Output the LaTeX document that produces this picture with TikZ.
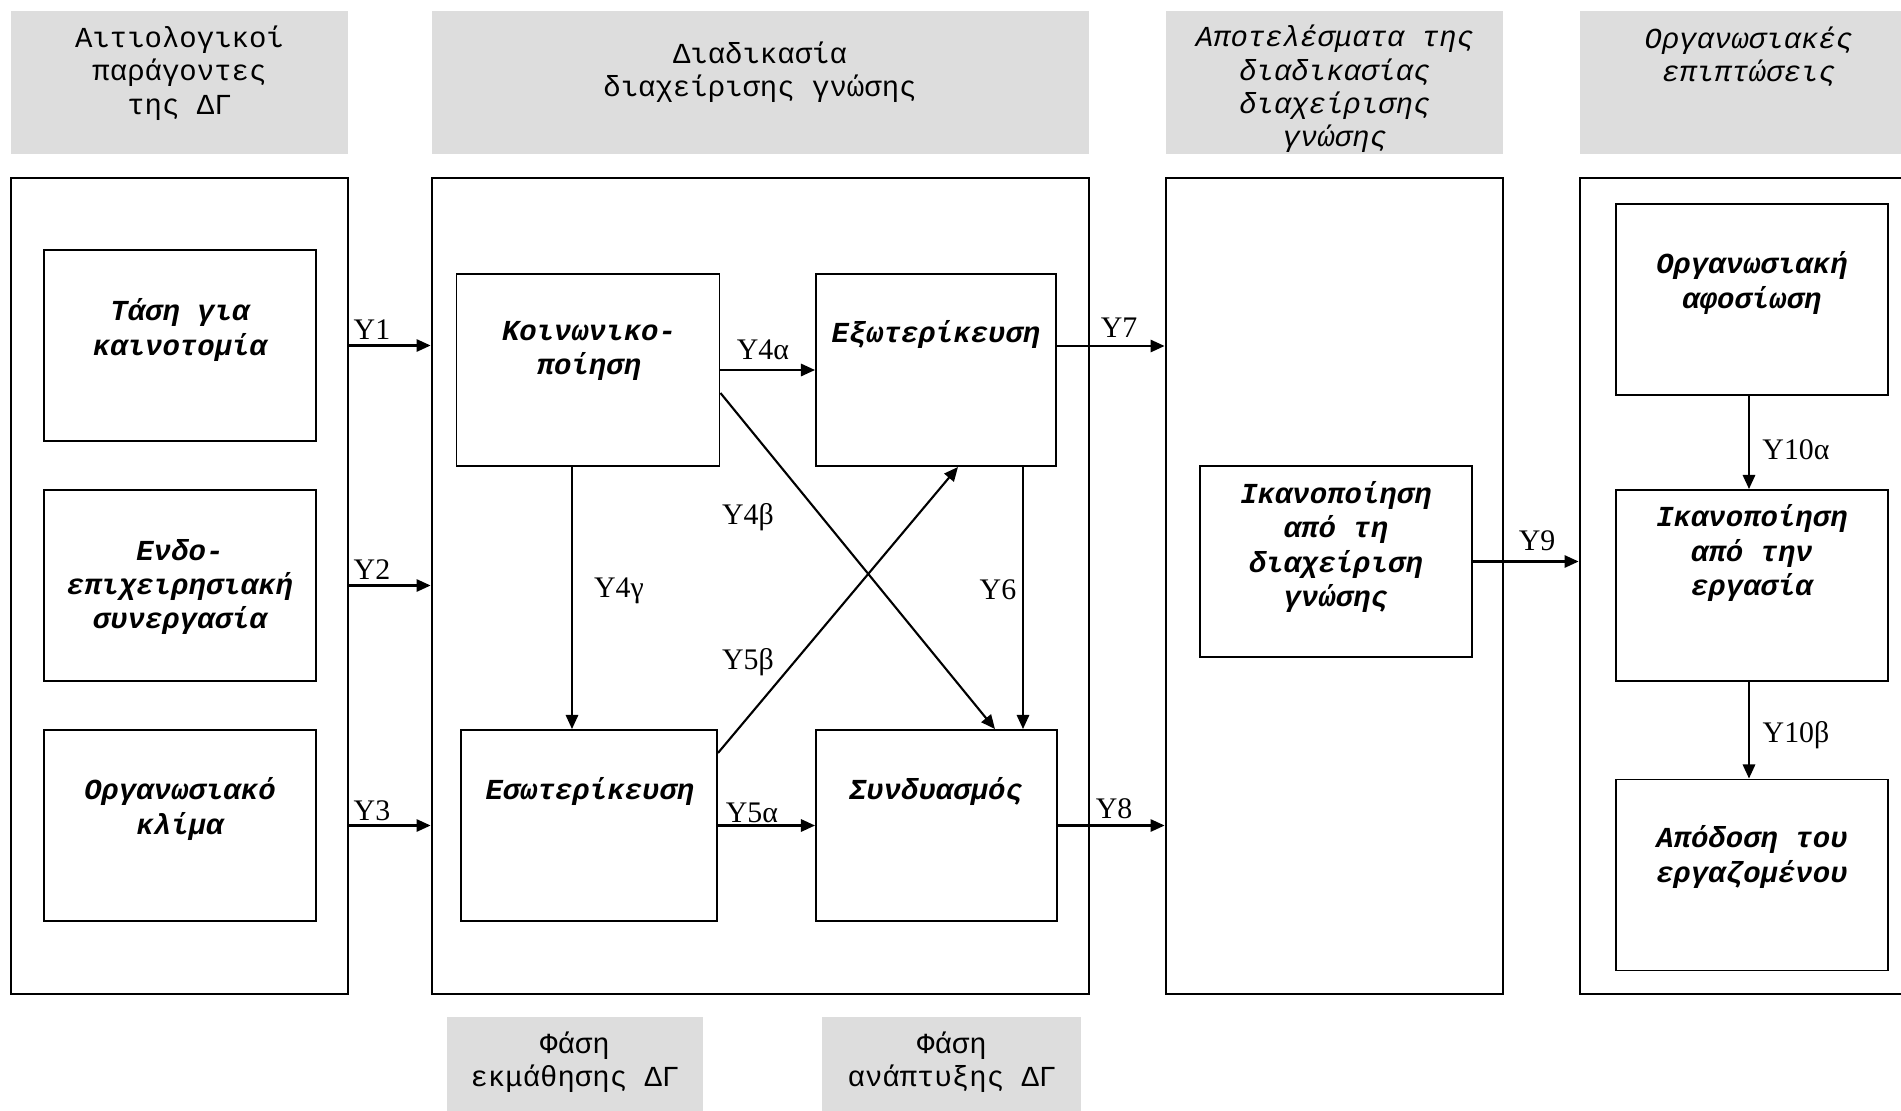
\documentclass[tikz,border=0pt]{standalone}
\usepackage{fontspec}
\setmainfont{Liberation Serif}
\newfontfamily\monofont{Liberation Mono}
\usetikzlibrary{arrows.meta,positioning}
\definecolor{headgray}{HTML}{DDDDDD}

\tikzset{
    outer/.style={draw, line width=0.8pt, minimum width=3.37cm, minimum height=8.16cm, inner sep=0},
    inbox/.style={draw, line width=0.55pt, minimum width=2.72cm, minimum height=1.91cm, inner sep=0},
    head/.style={fill=headgray, minimum width=3.37cm, minimum height=1.43cm, inner sep=0},
    headtxt/.style={font=\monofont\fontsize{8.25}{9.5}\selectfont, align=center, inner sep=0},
    boxtxt/.style={font=\monofont\bfseries\itshape\fontsize{8.25}{9.7}\selectfont, align=center, inner sep=0},
    lbl/.style={font=\fontsize{8.5}{10}\selectfont, inner sep=0},
    arr/.style={-{Triangle[length=4pt,width=3.5pt]}, line width=0.6pt}
}

\begin{document}
\begin{tikzpicture}
    \useasboundingbox (0,0) rectangle (19.01,-11.11);

    % headers
    \node[head] (h1) at (1.795,-0.825) {};
    \node[head, minimum width=6.57cm] (h2) at (7.605,-0.825) {};
    \node[head] (h3) at (13.345,-0.825) {};
    \node[head] (h4) at (17.485,-0.825) {};
    \node[headtxt] (h1t) at (1.795,-0.73) {Αιτιολογικοί\\παράγοντες\\της ΔΓ};
    \node[headtxt] (h2t) at (7.60,-0.72) {Διαδικασία\\διαχείρισης γνώσης};
    \node[headtxt, font=\monofont\itshape\fontsize{8.25}{9.5}\selectfont] (h3t) at (13.35,-0.89) {Αποτελέσματα της\\διαδικασίας\\διαχείρισης\\γνώσης};
    \node[headtxt, font=\monofont\itshape\fontsize{8.25}{9.5}\selectfont] (h4t) at (17.49,-0.565) {Οργανωσιακές\\επιπτώσεις};

    % phases
    \node[head, minimum width=2.56cm, minimum height=1.03cm] (p1) at (5.75,-10.685) {};
    \node[head, minimum width=2.59cm, minimum height=1.03cm] (p2) at (9.515,-10.685) {};
    \node[headtxt] (p1t) at (5.75,-10.62) {Φάση\\εκμάθησης ΔΓ};
    \node[headtxt] (p2t) at (9.52,-10.62) {Φάση\\ανάπτυξης ΔΓ};

    % outer boxes
    \node[outer] (b1) at (1.795,-5.86) {};
    \node[outer, minimum width=6.57cm] (b2) at (7.605,-5.86) {};
    \node[outer] (b3) at (13.345,-5.86) {};
    \node[outer] (b4) at (17.485,-5.86) {};

    % factors
    \node[inbox] (tasi) at (1.80,-3.455) {};
    \node[inbox] (endo) at (1.80,-5.855) {};
    \node[inbox] (klima) at (1.80,-8.255) {};
    \node[boxtxt] (tasit) at (1.80,-3.30) {Τάση για\\καινοτομία};
    \node[boxtxt] (endot) at (1.80,-5.87) {Ενδο-\\επιχειρησιακή\\συνεργασία};
    \node[boxtxt] (klimat) at (1.80,-8.09) {Οργανωσιακό\\κλίμα};

    % process
    \node[inbox, minimum width=2.63cm, minimum height=1.92cm] (koin) at (5.88,-3.70) {};
    \node[inbox, minimum width=2.40cm, minimum height=1.92cm] (exot) at (9.36,-3.70) {};
    \node[inbox, minimum width=2.56cm] (esot) at (5.89,-8.255) {};
    \node[inbox, minimum width=2.41cm] (synd) at (9.365,-8.255) {};
    \node[boxtxt] (koint) at (5.89,-3.51) {Κοινωνικο-\\ποίηση};
    \node[boxtxt] (exott) at (9.36,-3.34) {Εξωτερίκευση};
    \node[boxtxt] (esott) at (5.90,-7.91) {Εσωτερίκευση};
    \node[boxtxt] (syndt) at (9.36,-7.91) {Συνδυασμός};

    % results
    \node[inbox] (ikm) at (13.36,-5.615) {};
    \node[boxtxt] (ikmt) at (13.36,-5.47) {Ικανοποίηση\\από τη\\διαχείριση\\γνώσης};

    % impact
    \node[inbox] (afos) at (17.52,-2.995) {};
    \node[inbox] (ikerg) at (17.52,-5.855) {};
    \node[inbox] (apod) at (17.52,-8.75) {};
    \node[boxtxt] (afost) at (17.52,-2.83) {Οργανωσιακή\\αφοσίωση};
    \node[boxtxt] (ikergt) at (17.52,-5.53) {Ικανοποίηση\\από την\\εργασία};
    \node[boxtxt] (apodt) at (17.52,-8.57) {Απόδοση του\\εργαζομένου};

    % connectors
    \draw[arr] (tasi -| b1.east) -- (tasi -| b2.west);
    \draw[arr] (endo -| b1.east) -- (endo -| b2.west);
    \draw[arr] (klima -| b1.east) -- (klima -| b2.west);
    \draw[arr] (koin) -- (exot);
    \draw[arr] ([yshift=-0.23cm]koin.east) -- ([xshift=0.585cm]synd.north);
    \draw[arr] ([xshift=-0.16cm]koin.south) -- ([xshift=-0.16cm]koin.south |- esot.north);
    \draw[arr] (esot) -- (synd);
    \draw[arr] ([yshift=0.725cm]esot.east) -- ([xshift=0.22cm]exot.south);
    \draw[arr] ([xshift=0.87cm]exot.south) -- ([xshift=0.87cm]exot.south |- synd.north);
    \draw[arr] ([yshift=0.24cm]exot.east) -- ([yshift=0.24cm]exot.east -| b3.west);
    \draw[arr] (synd.east) -- (synd -| b3.west);
    \draw[arr] (ikm) -- (ikm -| b4.west);
    \draw[arr] ([xshift=-0.03cm]afos.south) -- ([xshift=-0.03cm]ikerg.north);
    \draw[arr] ([xshift=-0.03cm]ikerg.south) -- ([xshift=-0.03cm]apod.north);

    % labels
    \node[lbl] (y1) at (3.72,-3.30) {Y1};
    \node[lbl] (y2) at (3.72,-5.70) {Y2};
    \node[lbl] (y3) at (3.72,-8.11) {Y3};
    \node[lbl] (y4a) at (7.63,-3.50) {Y4α};
    \node[lbl] (y4b) at (7.48,-5.17) {Y4β};
    \node[lbl] (y4c) at (6.19,-5.91) {Y4γ};
    \node[lbl] (y5b) at (7.48,-6.62) {Y5β};
    \node[lbl] (y5a) at (7.52,-8.13) {Y5α};
    \node[lbl] (y6) at (9.98,-5.90) {Y6};
    \node[lbl] (y7) at (11.19,-3.28) {Y7};
    \node[lbl] (y8) at (11.14,-8.09) {Y8};
    \node[lbl] (y9) at (15.37,-5.41) {Y9};
    \node[lbl] (y10a) at (17.96,-4.50) {Y10α};
    \node[lbl] (y10b) at (17.96,-7.35) {Y10β};
\end{tikzpicture}
\end{document}
